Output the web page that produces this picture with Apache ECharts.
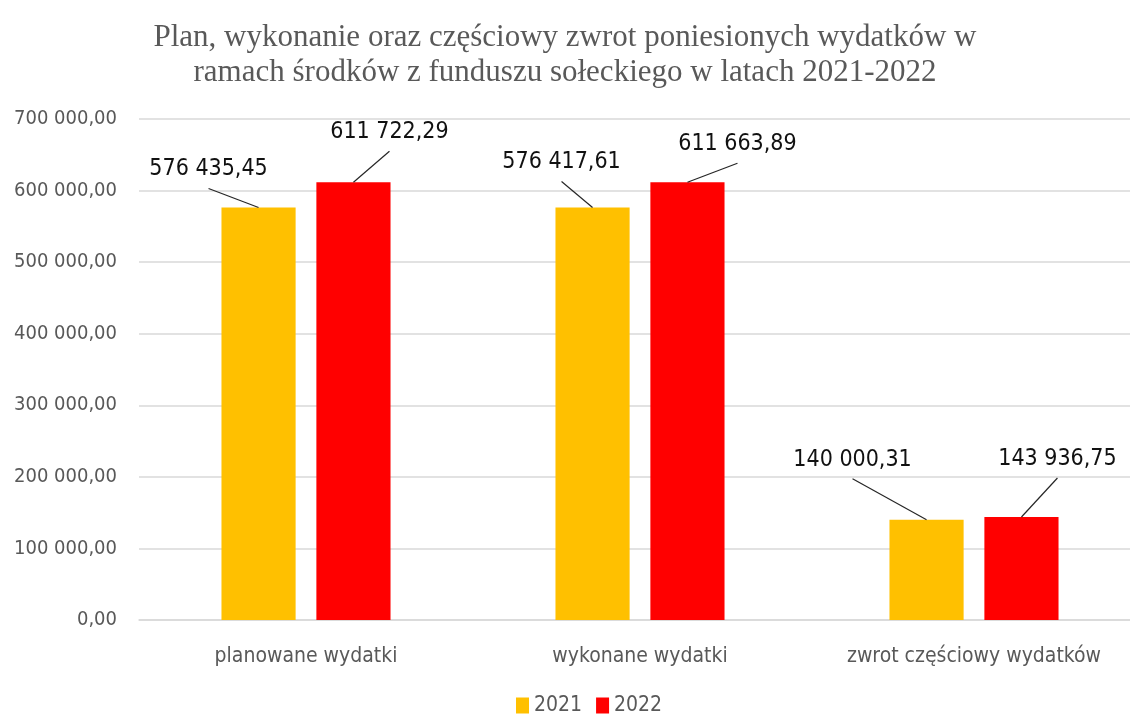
<!DOCTYPE html>
<html>
<head>
<meta charset="utf-8">
<script src="https://cdn.jsdelivr.net/npm/echarts@6/dist/echarts.min.js"></script>
<style>html,body{margin:0;padding:0;background:#fff}#c{width:1130px;height:718px}</style>
</head>
<body>
<div id="c"></div>
<script>
var categories = ['planowane wydatki', 'wykonane wydatki', 'zwrot częściowy wydatków'];
var seriesNames = ['2021', '2022'];
var values2021 = [576435.45, 576417.61, 140000.31];
var values2022 = [611722.29, 611663.89, 143936.75];
var yTicks = [0, 100000, 200000, 300000, 400000, 500000, 600000, 700000];

// label placement offsets (px) relative to bar top centre: [dx, dy]
var labelOffsets2021 = [[-50, -38], [-31, -45], [-74, -60]];
var labelOffsets2022 = [[36, -50], [50, -38], [36, -58]];

var BAR_W = 0.222, BAR_GAP = 0.28;

function fmt(v) {
  var s = v.toFixed(2).split('.');
  var i = s[0].replace(/\B(?=(\d{3})+(?!\d))/g, ' ');
  return i + ',' + s[1];
}

function labelSeries(values, offsets, sign) {
  return {
    type: 'custom',
    silent: true,
    z: 10,
    data: values.map(function (v, i) { return [i, v]; }),
    renderItem: function (params, api) {
      var i = api.value(0), v = api.value(1);
      var p = api.coord([i, v]);
      var band = api.size([1, 0])[0];
      var bx = p[0] + sign * band * BAR_W * (1 + BAR_GAP) / 2;
      var by = p[1];
      var off = offsets[params.dataIndex];
      var lx = bx + off[0], ly = by + off[1];
      return {
        type: 'group',
        children: [
          { type: 'line', shape: { x1: bx, y1: by, x2: lx, y2: ly + 19 },
            style: { stroke: '#262626', lineWidth: 1.2 } },
          { type: 'text', x: lx, y: ly,
            style: { text: fmt(v), fill: '#111', font: '23px "DejaVu Sans Condensed", "DejaVu Sans"',
                     align: 'center', verticalAlign: 'middle' } }
        ]
      };
    }
  };
}

var chart = echarts.init(document.getElementById('c'));
chart.setOption({
  animation: false,
  title: {
    text: 'Plan, wykonanie oraz częściowy zwrot poniesionych wydatków w\nramach środków z funduszu sołeckiego w latach 2021-2022',
    left: 'center',
    top: 15,
    padding: [5, 5, 5, 17],
    textStyle: { fontFamily: '"Liberation Serif", "DejaVu Serif", serif', fontSize: 31, fontWeight: 'normal', color: '#595959', lineHeight: 35 }
  },
  legend: {
    data: seriesNames,
    top: 690,
    left: 511,
    itemWidth: 13,
    itemHeight: 16,
    itemGap: 14,
    icon: 'rect',
    textStyle: { fontFamily: '"DejaVu Sans Condensed", "DejaVu Sans"', fontSize: 21, color: '#595959' }
  },
  grid: { left: 139, width: 1002, top: 119, bottom: 98, outerBoundsMode: 'none', containLabel: false },
  xAxis: {
    type: 'category',
    data: categories,
    axisLine: { lineStyle: { color: '#d9d9d9', width: 1.5 } },
    axisTick: { show: false },
    axisLabel: { margin: 26, fontFamily: '"DejaVu Sans Condensed", "DejaVu Sans"', fontSize: 21, color: '#595959' }
  },
  yAxis: {
    type: 'value',
    min: yTicks[0],
    max: yTicks[yTicks.length - 1],
    interval: yTicks[1] - yTicks[0],
    axisLine: { show: false },
    axisTick: { show: false },
    splitLine: { lineStyle: { color: '#d9d9d9', width: 1.5 } },
    axisLabel: { margin: 22, fontFamily: '"DejaVu Sans Condensed", "DejaVu Sans"', fontSize: 20, color: '#595959', formatter: fmt }
  },
  series: [
    { name: seriesNames[0], type: 'bar', data: values2021, barWidth: (BAR_W * 100) + '%', barGap: (BAR_GAP * 100) + '%', itemStyle: { color: '#FFC000' } },
    { name: seriesNames[1], type: 'bar', data: values2022, barWidth: (BAR_W * 100) + '%', barGap: (BAR_GAP * 100) + '%', itemStyle: { color: '#FF0000' } },
    labelSeries(values2021, labelOffsets2021, -1),
    labelSeries(values2022, labelOffsets2022, 1)
  ]
});
</script>
</body>
</html>
